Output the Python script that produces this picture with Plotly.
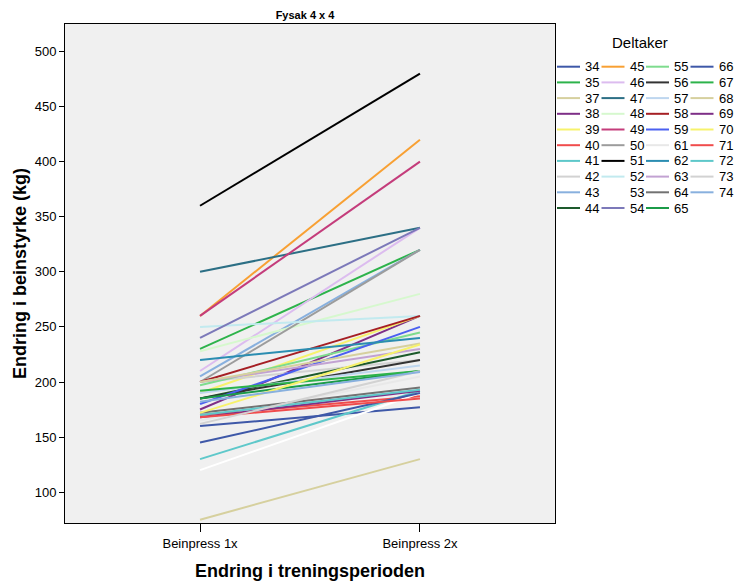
import plotly.graph_objects as go

# ---- data ----
categories = ["Beinpress 1x", "Beinpress 2x"]
participants = [34, 35, 37, 38, 39, 40, 41, 42, 43, 44,
                45, 46, 47, 48, 49, 50, 51, 52, 53, 54,
                55, 56, 57, 58, 59, 61, 62, 63, 64, 65,
                66, 67, 68, 69, 70, 71, 72, 73, 74]
pre_values = [160, 230, 75, 175, 190, 170, 130, 200, 205, 185,
              260, 210, 300, 228, 260, 200, 360, 250, 120, 240,
              197, 185, 190, 200, 180, 165, 220, 200, 172, 185,
              145, 192, 200, 168, 172, 168, 170, 162, 182]
post_values = [177, 320, 130, 260, 260, 187, 192, 220, 320, 227,
               420, 340, 340, 280, 400, 320, 480, 260, 190, 340,
               245, 220, 215, 260, 250, 205, 240, 230, 195, 210,
               190, 210, 235, 192, 234, 185, 193, 210, 209]
y_ticks = [100, 150, 200, 250, 300, 350, 400, 450, 500]

# SPSS-like 30 colour cycle
palette = ["#3e58a8", "#2db34b", "#d6d09e", "#7e2f87", "#f7f26c", "#f04c4c",
           "#5ec8ca", "#d2d2d2", "#88b0de", "#1d5a2c", "#f8a033", "#dcbcef",
           "#2c6f85", "#d6f8ce", "#c43c7b", "#9c9c9c", "#000000", "#c2eaef",
           "#ffffff", "#7c79b9", "#7edc8e", "#333333", "#bed6ef", "#a51f24",
           "#4b60f0", "#e8e8e8", "#2b8db1", "#c2a2d2", "#727272", "#1b9b48"]

W, H = 734, 583
L, R, T, B = 65, 555, 24, 523

fig = go.Figure()
for i, p in enumerate(participants):
    fig.add_trace(go.Scatter(
        x=categories, y=[pre_values[i], post_values[i]],
        mode="lines", name=str(p),
        line=dict(color=palette[i % len(palette)], width=2),
        showlegend=False))

# ---- custom legend (4 columns) ----
def px2x(px):
    return (px - L) / (R - L)

def py2y(py):
    return (B - py) / (B - T)

shapes = []
annotations = []
rows_per_col = 10
col_x0 = 557
col_w = 44.5
row_y0 = 66.7
row_h = 15.7
for i, p in enumerate(participants):
    c, r = divmod(i, rows_per_col)
    x0 = col_x0 + c * col_w
    y = row_y0 + r * row_h
    shapes.append(dict(type="line", xref="paper", yref="paper",
                       x0=px2x(x0), x1=px2x(x0 + 23), y0=py2y(y), y1=py2y(y),
                       line=dict(color=palette[i % len(palette)], width=2)))
    annotations.append(dict(text=str(p), xref="paper", yref="paper",
                            x=px2x(x0 + 26), y=py2y(y), xanchor="left",
                            yanchor="middle", showarrow=False,
                            font=dict(size=13, color="#000000")))
annotations.append(dict(text="Deltaker", xref="paper", yref="paper",
                        x=px2x(640), y=py2y(42), xanchor="center",
                        yanchor="middle", showarrow=False,
                        font=dict(size=15, color="#000000")))

fig.update_layout(
    width=W, height=H,
    margin=dict(l=L, r=W - R, t=T, b=H - B),
    paper_bgcolor="white", plot_bgcolor="#f0f0f0",
    font=dict(family="Liberation Sans, Arial, sans-serif", size=13, color="#000000"),
    title=dict(text="<b>Fysak 4 x 4</b>", x=305 / W,
               xanchor="center", y=1 - 15 / H, yanchor="middle",
               font=dict(size=11, color="#000000")),
    shapes=shapes, annotations=annotations,
    showlegend=False,
)
fig.update_xaxes(
    type="category", range=[-0.614, 1.614], automargin=False,
    showline=True, linecolor="#000000", linewidth=1, mirror=True,
    ticks="outside", ticklen=8, tickcolor="#000000", showgrid=False, zeroline=False,
    tickfont=dict(size=13),
    title=dict(text="<b>Endring i treningsperioden</b>", font=dict(size=18), standoff=14),
)
fig.update_yaxes(
    range=[72, 525], tickvals=y_ticks, automargin=False,
    showline=True, linecolor="#000000", linewidth=1, mirror=True,
    ticks="outside", ticklen=5, tickcolor="#000000", showgrid=False, zeroline=False,
    tickfont=dict(size=13),
    title=dict(text="<b>Endring i beinstyrke (kg)</b>", font=dict(size=18), standoff=3),
)

fig.write_html("out.html")
